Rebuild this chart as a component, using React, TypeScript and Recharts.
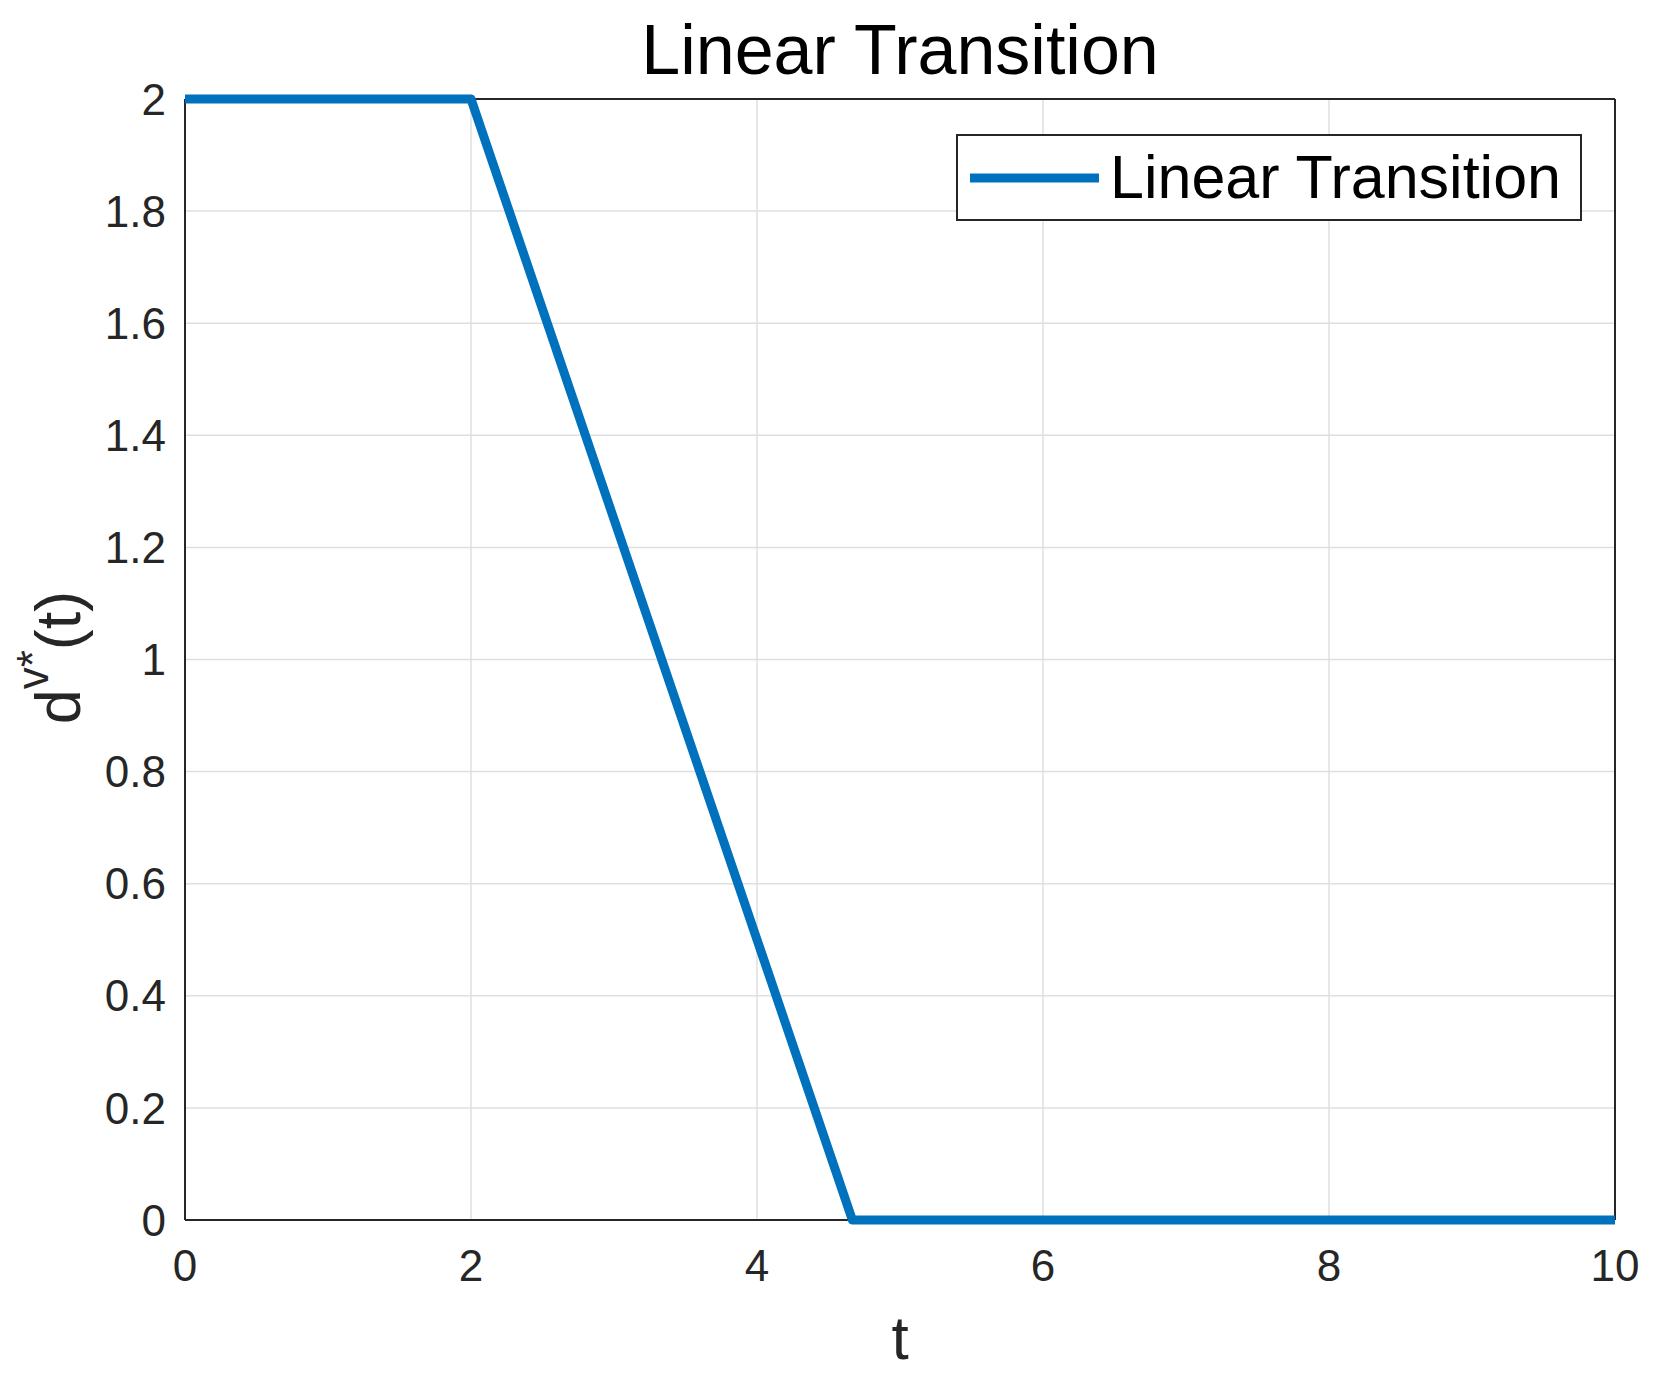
import { LineChart, Line, XAxis, YAxis, CartesianGrid, Legend } from 'recharts';

const T_VALUES = [0, 2, 4.667, 10];
const D_VALUES = [2, 2, 0, 0];
const X_TICKS = [0, 2, 4, 6, 8, 10];
const Y_TICKS = [0, 0.2, 0.4, 0.6, 0.8, 1, 1.2, 1.4, 1.6, 1.8, 2];
const SERIES_NAME = 'Linear Transition';
const TITLE = 'Linear Transition';

const data = T_VALUES.map((t, i) => ({ t, d: D_VALUES[i] }));

const AXIS = '#262626';
const BLUE = '#0072BD';
const FONT = '"Liberation Sans", Arial, Helvetica, sans-serif';

const tickStyle = { fill: AXIS, fontSize: 44, fontFamily: FONT };

function YLabel({ viewBox }: any) {
  const cx = viewBox.x + 58;
  const cy = viewBox.y + viewBox.height / 2 - 2;
  return (
    <text
      x={cx}
      y={cy}
      transform={`rotate(-90, ${cx}, ${cy})`}
      textAnchor="middle"
      dominantBaseline="central"
      fontSize={63}
      fontFamily={FONT}
      fill={AXIS}
    >
      d
      <tspan dy={-26} fontSize={44}>v*</tspan>
      <tspan dy={26} fontSize={63}>(t)</tspan>
    </text>
  );
}

function XLabel({ viewBox }: any) {
  return (
    <text
      x={viewBox.x + viewBox.width / 2}
      y={viewBox.y + 139}
      textAnchor="middle"
      fontSize={62}
      fontFamily={FONT}
      fill={AXIS}
    >
      t
    </text>
  );
}

function LegendBox({ payload }: any) {
  const name = payload && payload[0] ? payload[0].value : SERIES_NAME;
  return (
    <div
      style={{
        boxSizing: 'border-box',
        width: 626,
        height: 87,
        border: `2px solid ${AXIS}`,
        background: '#fff',
        display: 'flex',
        alignItems: 'center',
        fontFamily: FONT,
      }}
    >
      <svg width={152} height={20} style={{ flex: 'none' }}>
        <line x1={12} x2={141} y1={10} y2={10} stroke={BLUE} strokeWidth={9} />
      </svg>
      <span style={{ fontSize: 61, lineHeight: 1, color: '#000', whiteSpace: 'nowrap' }}>{name}</span>
    </div>
  );
}

export default function App() {
  return (
    <div style={{ position: 'absolute', left: 0, top: 0, width: 1657, height: 1373, background: '#fff', fontFamily: FONT }}>
      <div
        style={{
          position: 'absolute',
          left: 185,
          width: 1430,
          top: 15,
          textAlign: 'center',
          fontSize: 70,
          lineHeight: 1,
          color: '#000',
          zIndex: 2,
        }}
      >
        {TITLE}
      </div>
      <LineChart width={1657} height={1373} data={data} margin={{ top: 99, right: 42, left: 0, bottom: 0 }}>
        <CartesianGrid stroke="#dfdfdf" strokeWidth={1.5} />
        <XAxis
          dataKey="t"
          type="number"
          domain={[0, 10]}
          ticks={X_TICKS}
          height={153}
          tickSize={0}
          tickMargin={30}
          tickLine={false}
          axisLine={{ stroke: AXIS, strokeWidth: 2 }}
          tick={tickStyle}
          interval={0}
          label={<XLabel />}
        />
        <XAxis
          xAxisId="bottomTicks"
          type="number"
          domain={[0, 10]}
          ticks={X_TICKS}
          mirror
          tick={false}
          tickSize={14}
          axisLine={false}
          tickLine={{ stroke: AXIS, strokeWidth: 2 }}
          interval={0}
        />
        <XAxis
          xAxisId="top"
          orientation="top"
          type="number"
          domain={[0, 10]}
          ticks={X_TICKS}
          mirror
          tick={false}
          tickSize={14}
          axisLine={{ stroke: AXIS, strokeWidth: 2 }}
          tickLine={{ stroke: AXIS, strokeWidth: 2 }}
          interval={0}
        />
        <YAxis
          type="number"
          domain={[0, 2]}
          ticks={Y_TICKS}
          width={185}
          tickSize={0}
          tickMargin={19}
          tickLine={false}
          axisLine={{ stroke: AXIS, strokeWidth: 2 }}
          tick={tickStyle}
          interval={0}
          label={<YLabel />}
        />
        <YAxis
          yAxisId="leftTicks"
          type="number"
          domain={[0, 2]}
          ticks={Y_TICKS}
          mirror
          tick={false}
          tickSize={14}
          axisLine={false}
          tickLine={{ stroke: AXIS, strokeWidth: 2 }}
          interval={0}
        />
        <YAxis
          yAxisId="right"
          orientation="right"
          type="number"
          domain={[0, 2]}
          ticks={Y_TICKS}
          mirror
          tick={false}
          tickSize={14}
          axisLine={{ stroke: AXIS, strokeWidth: 2 }}
          tickLine={{ stroke: AXIS, strokeWidth: 2 }}
          interval={0}
        />
        <Legend
          layout="horizontal"
          verticalAlign="middle"
          align="center"
          content={<LegendBox />}
          wrapperStyle={{ position: 'absolute', left: 956, top: 134, width: 626, height: 87 }}
        />
        <Line
          type="linear"
          dataKey="d"
          name={SERIES_NAME}
          stroke={BLUE}
          strokeWidth={9}
          strokeLinejoin="round"
          dot={false}
          activeDot={false}
          isAnimationActive={false}
          zIndex={600}
        />
      </LineChart>
    </div>
  );
}
